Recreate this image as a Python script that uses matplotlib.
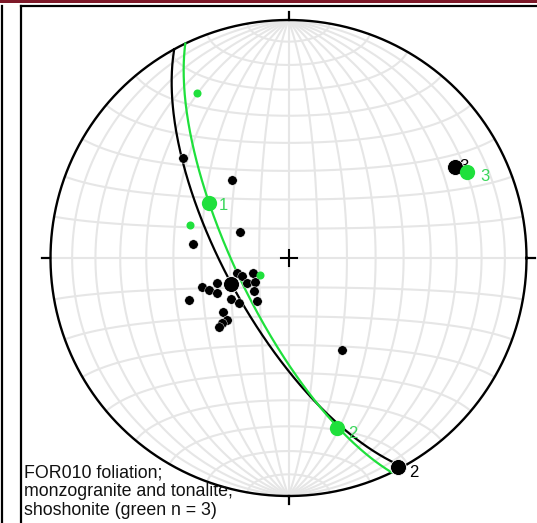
import numpy as np
import matplotlib
matplotlib.use('Agg')
import matplotlib.pyplot as pyplot
from matplotlib.lines import Line2D
from matplotlib.patches import Rectangle

pyplot.rcParams['font.family'] = ['Liberation Sans', 'DejaVu Sans']

# Foliation poles (trend, plunge), lower hemisphere
black_trend = [313.5, 324.1, 298.2, 278.3, 253.8, 248.8, 247.1, 250.7, 251.5, 248.1,
               243.9, 238.9, 234.4, 226.3, 216.2, 234.5, 227.7, 247.1, 230.5, 224.8,
               225.7, 225.2, 149.8]
black_plunge = [38.8, 56.7, 71.2, 56.7, 71.7, 73.0, 76.9, 64.0, 58.6, 60.5,
                62.6, 73.5, 75.9, 73.7, 71.8, 65.8, 67.1, 52.6, 60.8, 59.9,
                57.9, 56.2, 53.1]
green_trend = [331.0, 288.5, 239.2]
green_plunge = [21.8, 54.0, 78.7]

# Eigenvectors 1, 2, 3
black_eig_trend = [245.7, 152.4, 61.3]
black_eig_plunge = [68.4, 1.0, 21.4]
green_eig_trend = [304.7, 164.1, 64.3]
green_eig_plunge = [56.6, 26.6, 18.0]

# Best-fit girdles (dip direction, dip)
black_plane = (241.3, 68.6)
green_plane = (244.3, 72.0)

caption = 'FOR010 foliation;\nmonzogranite and tonalite,\nshoshonite (green n = 3)'

GREEN = '#1fe03c'
GRID = '#e6e6e6'


def to_xyz(trend, plunge):
    t = np.radians(np.asarray(trend, dtype=float))
    p = np.radians(np.asarray(plunge, dtype=float))
    return np.cos(p) * np.sin(t), np.cos(p) * np.cos(t), -np.sin(p)


def project(x, y, z):
    # Equal-area (Schmidt) lower hemisphere
    f = 1.0 / np.sqrt(1.0 - z)
    return x * f, y * f


def plane_curve(dip_direction, dip, n=200):
    sx, sy, sz = to_xyz(dip_direction - 90.0, 0.0)
    dx, dy, dz = to_xyz(dip_direction, dip)
    a = np.linspace(0, np.pi, n)
    return project(np.cos(a) * sx + np.sin(a) * dx,
                   np.cos(a) * sy + np.sin(a) * dy,
                   np.cos(a) * sz + np.sin(a) * dz)


fig = pyplot.figure(figsize=(5.37, 5.23), dpi=100)
ax = fig.add_axes([0, 0, 1, 1])
ax.set_xlim(-288.5 / 238, (537 - 288.5) / 238)
ax.set_ylim((258 - 523) / 238, 258 / 238)
ax.axis('off')

# Schmidt net grid, 10 degree spacing
lam = np.radians(np.linspace(0, 180, 200))
phi = np.radians(np.linspace(-90, 90, 200))
for k in range(10, 180, 10):
    lk = np.radians(k)
    x, y = project(np.cos(phi) * np.cos(lk), np.sin(phi), -np.cos(phi) * np.sin(lk))
    ax.plot(x, y, color=GRID, lw=1.5, zorder=1)
for k in range(-80, 90, 10):
    pk = np.radians(k)
    x, y = project(np.cos(pk) * np.cos(lam), np.sin(pk) * np.ones_like(lam),
                   -np.cos(pk) * np.sin(lam))
    ax.plot(x, y, color=GRID, lw=1.5, zorder=1)

# Primitive, ticks and centre cross
th = np.linspace(0, 2 * np.pi, 400)
ax.plot(np.cos(th), np.sin(th), color='black', lw=1.7, zorder=3)
tk = 8 / 238
ax.plot([0, 0], [1, 1 + tk], color='black', lw=1.6, zorder=3)
ax.plot([0, 0], [-1, -1 - tk], color='black', lw=1.6, zorder=3)
ax.plot([1, 1 + tk], [0, 0], color='black', lw=1.6, zorder=3)
ax.plot([-1, -1 - tk], [0, 0], color='black', lw=1.6, zorder=3)
ax.plot([-tk, tk], [0, 0], color='black', lw=1.5, zorder=3)
ax.plot([0, 0], [-tk, tk], color='black', lw=1.5, zorder=3)

# Girdles
bx, by = plane_curve(*black_plane)
ax.plot(bx, by, color='black', lw=1.6, zorder=4)
gx, gy = plane_curve(*green_plane)
ax.plot(gx, gy, color=GREEN, lw=1.6, zorder=4)

# Poles
px, py = project(*to_xyz(black_trend, black_plunge))
ax.plot(px, py, 'o', color='black', ms=6.8, mec='white', mew=0.3, zorder=5)
px, py = project(*to_xyz(green_trend, green_plunge))
ax.plot(px, py, 'o', color=GREEN, ms=5.8, mew=0, zorder=6)

# Eigenvectors
ex, ey = project(*to_xyz(black_eig_trend, black_eig_plunge))
ax.plot(ex, ey, 'o', color='black', ms=11.5, mec='white', mew=0.6, zorder=7)
fx, fy = project(*to_xyz(green_eig_trend, green_eig_plunge))
ax.plot(fx, fy, 'o', color=GREEN, ms=11, mew=0, zorder=8)

ax.annotate('2', (ex[1], ey[1]), xytext=(8, -4), textcoords='offset points',
            ha='left', va='center', fontsize=12, color='black', zorder=9)
# label 3 of the black set sits behind the green eigenvector
ax.annotate('3', (ex[2], ey[2]), xytext=(3, 0), textcoords='offset points',
            ha='left', va='center', fontsize=12, color='black', zorder=7)
green_offsets = [(7, -2), (8, -4), (10, -3)]
for i, off in enumerate(green_offsets):
    ax.annotate(str(i + 1), (fx[i], fy[i]), xytext=off, textcoords='offset points',
                ha='left', va='center', fontsize=12, color='#3ad65a', zorder=9)

fig.text(24 / 537, 1 - 519 / 523, caption, ha='left', va='bottom',
         fontsize=12.8, linespacing=1.13, color='#111111')

# Page frame
fig.add_artist(Rectangle((0, 1 - 3 / 523), 1, 3 / 523, transform=fig.transFigure,
                         color='#7d1828', lw=0))
fig.add_artist(Line2D([21 / 537, 1], [1 - 5.5 / 523] * 2, transform=fig.transFigure,
                      color='black', lw=1.6))
fig.add_artist(Line2D([21 / 537] * 2, [0, 1 - 5.5 / 523], transform=fig.transFigure,
                      color='black', lw=1.6))
fig.add_artist(Line2D([1.5 / 537] * 2, [0, 1 - 5.5 / 523], transform=fig.transFigure,
                      color='black', lw=1.6))

fig.savefig('out.png', dpi=100)
